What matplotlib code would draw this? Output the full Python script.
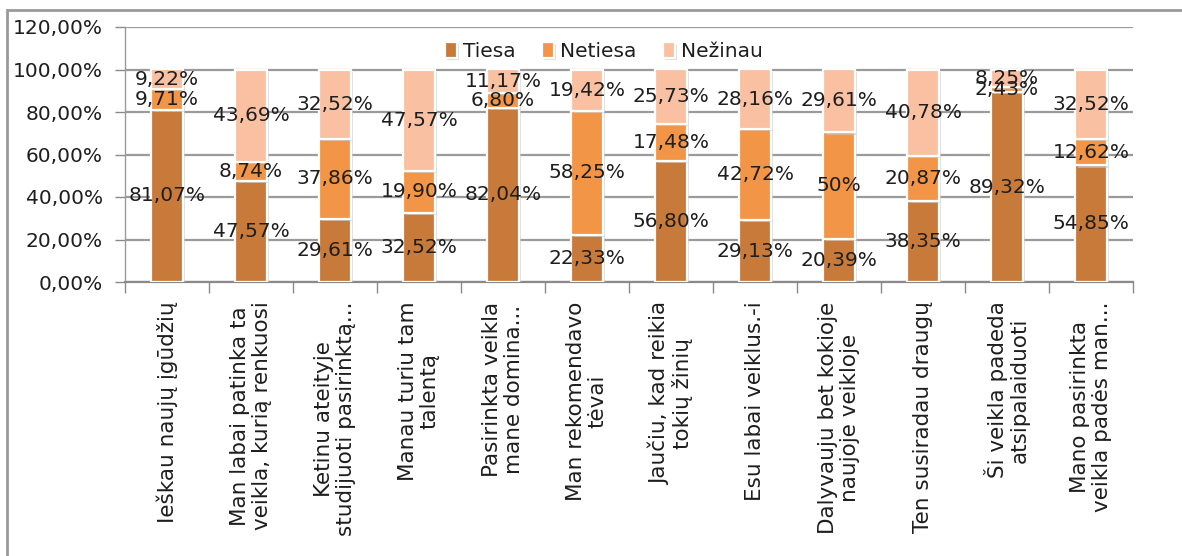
import matplotlib
matplotlib.use("Agg")
import matplotlib.pyplot as plt
import matplotlib.patheffects as pe
from matplotlib.patches import Rectangle
import numpy as np

plt.rcParams['font.family'] = ['DejaVu Sans']

categories = [
    "Ieškau naujų įgūdžių",
    "Man labai patinka ta\nveikla, kurią renkuosi",
    "Ketinu ateityje\nstudijuoti pasirinktą...",
    "Manau turiu tam\ntalentą",
    "Pasirinkta veikla\nmane domina...",
    "Man rekomendavo\ntėvai",
    "Jaučiu, kad reikia\ntokių žinių",
    "Esu labai veiklus.-i",
    "Dalyvauju bet kokioje\nnaujoje veikloje",
    "Ten susiradau draugų",
    "Ši veikla padeda\natsipalaiduoti",
    "Mano pasirinkta\nveikla padės man...",
]
tiesa = [81.07, 47.57, 29.61, 32.52, 82.04, 22.33, 56.80, 29.13, 20.39, 38.35, 89.32, 54.85]
netiesa = [9.71, 8.74, 37.86, 19.90, 6.80, 58.25, 17.48, 42.72, 50.0, 20.87, 2.43, 12.62]
nezinau = [9.22, 43.69, 32.52, 47.57, 11.17, 19.42, 25.73, 28.16, 29.61, 40.78, 8.25, 32.52]
series_names = ["Tiesa", "Netiesa", "Nežinau"]
colors = ["#C77A3A", "#F29547", "#F9C1A2"]
yticks = [0, 20, 40, 60, 80, 100, 120]


def fmt(v):
    if abs(v - round(v)) < 1e-9:
        return f"{int(round(v))}%"
    return f"{v:.2f}".replace(".", ",") + "%"


W, H = 1182, 556
fig = plt.figure(figsize=(W / 100, H / 100), dpi=100)
fig.patch.set_facecolor("white")
ax = fig.add_axes([125 / W, 1 - 282 / H, (1133 - 125) / W, (282 - 27) / H])

# outer frame (left and top edges visible)
fig.add_artist(Rectangle((7 / W, -0.1), 1.2, 1 - 10 / H + 0.1, transform=fig.transFigure,
                         fill=False, edgecolor="#9a9a9a", linewidth=2))

x = np.arange(len(categories))
bw = 0.37
bottom = np.zeros(len(categories))
shadow = [pe.SimplePatchShadow(offset=(1.5, -1.5), shadow_rgbFace="#c8c8c8", alpha=0.6), pe.Normal()]
for name, vals, col in zip(series_names, [tiesa, netiesa, nezinau], colors):
    v = np.array(vals)
    bars = ax.bar(x, v, bw, bottom=bottom, color=col, edgecolor="white", linewidth=1.6,
                  label=name, zorder=3)
    for b in bars:
        b.set_path_effects(shadow)
    for xi, bi, vi in zip(x, bottom, v):
        ax.text(xi, bi + vi / 2, fmt(vi), ha="center", va="center", fontsize=14.5,
                color="#1e1e1e", zorder=5)
    bottom = bottom + v

ax.set_xlim(-0.5, len(categories) - 0.5)
ax.set_ylim(0, 120)
ax.set_yticks(yticks)
ax.set_yticklabels([f"{t},00%" for t in yticks], fontsize=14.5, color="#1e1e1e")
ax.set_xticks(x)
ax.set_xticklabels(categories, rotation=90, fontsize=15.5, color="#1e1e1e",
                   ha="center", va="top", multialignment="center", linespacing=1.1)
ax.tick_params(axis="x", length=0, pad=14)
ax.set_xticks(np.arange(len(categories) + 1) - 0.5, minor=True)
ax.tick_params(axis="x", which="minor", length=8, width=1, color="#8a8a8a", direction="out")
ax.tick_params(axis="y", length=7, width=1, color="#8a8a8a", pad=9)
ax.grid(axis="y", color="#9a9a9a", linewidth=1.6, zorder=0)
ax.set_axisbelow(True)
for s in ["top", "right"]:
    ax.spines[s].set_visible(False)
ax.spines["left"].set_color("#9a9a9a")
ax.spines["left"].set_linewidth(1)
ax.spines["bottom"].set_color("#8a8a8a")
ax.spines["bottom"].set_linewidth(1.6)

leg = ax.legend(loc="center", bbox_to_anchor=(0.475, 0.905), ncol=3, frameon=False,
                fontsize=14.5, handlelength=0.6, handleheight=0.9, handletextpad=0.3,
                columnspacing=1.3)
for t in leg.get_texts():
    t.set_color("#1e1e1e")

fig.savefig("out.png", dpi=100, facecolor="white")
